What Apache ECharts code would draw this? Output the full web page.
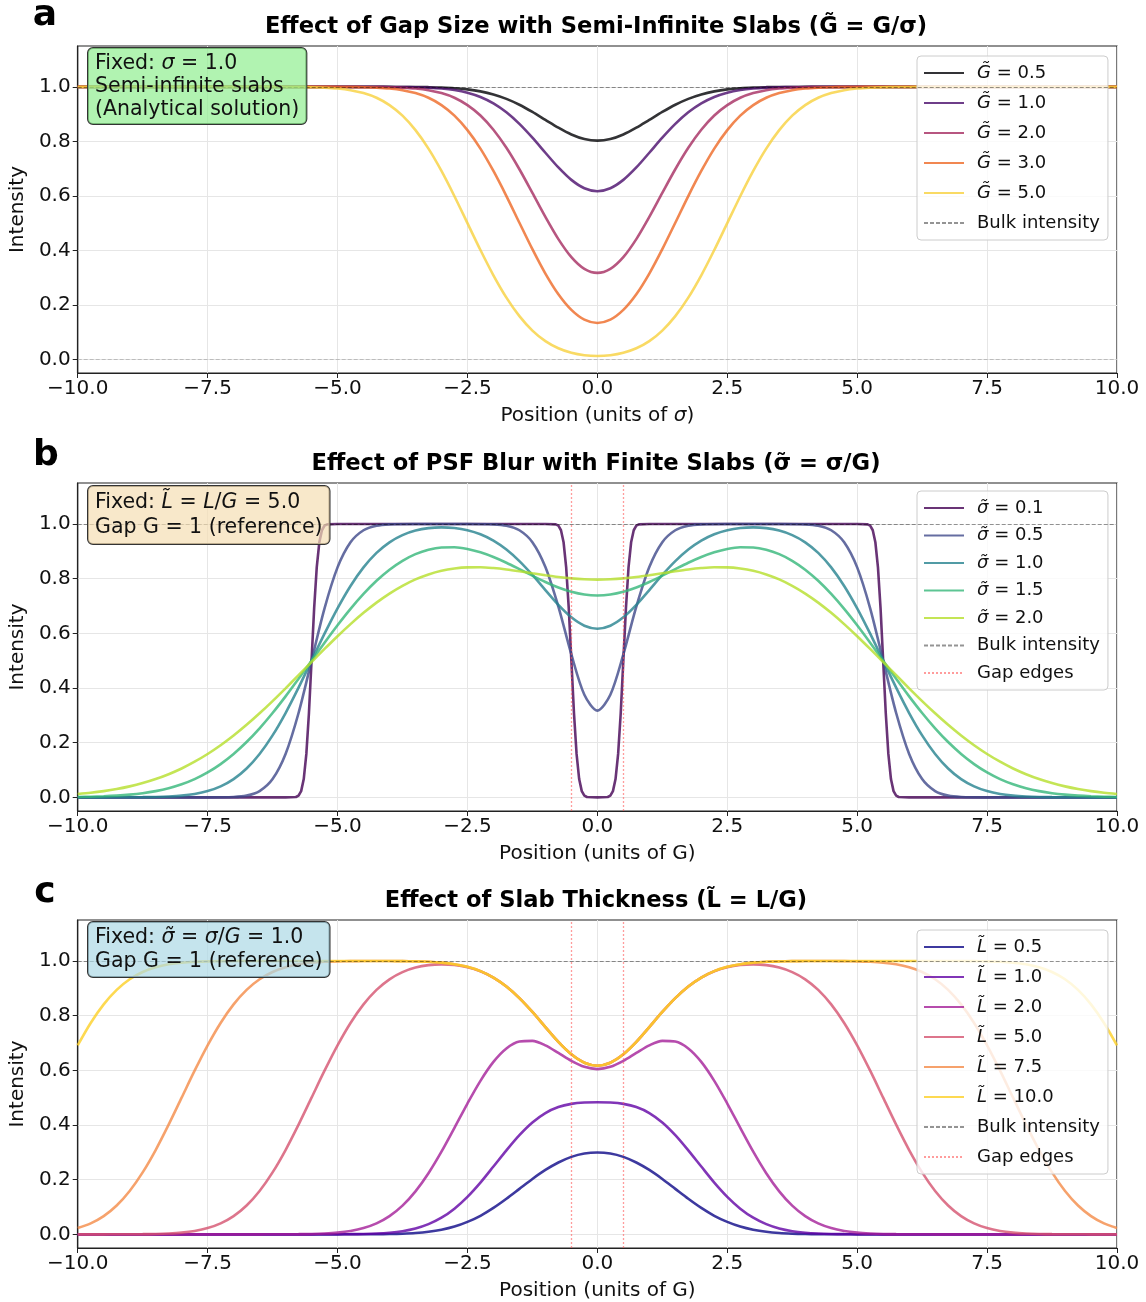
<!DOCTYPE html>
<html>
<head>
<meta charset="utf-8">
<title>Slab intensity profiles</title>
<script src="https://cdn.jsdelivr.net/npm/echarts@6.0.0/dist/echarts.min.js"></script>
<style>
  html, body { margin: 0; padding: 0; background: #fff; }
  #chart { width: 1146px; height: 1302px; }
</style>
</head>
<body>
<div id="chart"></div>
<script>
// shared position grid (units of sigma / G), 0.25 steps
var xQ = [-10,-9.75,-9.5,-9.25,-9,-8.75,-8.5,-8.25,-8,-7.75,-7.5,-7.25,-7,-6.75,-6.5,-6.25,-6,-5.75,-5.5,-5.25,-5,-4.75,-4.5,-4.25,-4,-3.75,-3.5,-3.25,-3,-2.75,-2.5,-2.25,-2,-1.75,-1.5,-1.25,-1,-0.75,-0.5,-0.25,0,0.25,0.5,0.75,1,1.25,1.5,1.75,2,2.25,2.5,2.75,3,3.25,3.5,3.75,4,4.25,4.5,4.75,5,5.25,5.5,5.75,6,6.25,6.5,6.75,7,7.25,7.5,7.75,8,8.25,8.5,8.75,9,9.25,9.5,9.75,10];

// ---------- panel a: gap size, semi-infinite slabs ----------
var gapNames = ['G\u0303 = 0.5', 'G\u0303 = 1.0', 'G\u0303 = 2.0', 'G\u0303 = 3.0', 'G\u0303 = 5.0'];
var gapG05 = [1,1,1,1,1,1,1,1,1,1,1,1,1,1,1,1,1,1,1,1,1,1,1,1,0.9999,0.9997,0.9995,0.9989,0.9976,0.9952,0.9908,0.9834,0.9721,0.956,0.9345,0.9081,0.879,0.8502,0.8253,0.8085,0.8026,0.8085,0.8253,0.8502,0.879,0.9081,0.9345,0.956,0.9721,0.9834,0.9908,0.9952,0.9976,0.9989,0.9995,0.9997,0.9999,1,1,1,1,1,1,1,1,1,1,1,1,1,1,1,1,1,1,1,1,1,1,1,1];
var gapG1 = [1,1,1,1,1,1,1,1,1,1,1,1,1,1,1,1,1,1,1,1,1,1,1,0.9999,0.9998,0.9994,0.9986,0.9971,0.994,0.9884,0.9786,0.9629,0.9394,0.9066,0.8641,0.8135,0.7583,0.7043,0.6587,0.6279,0.617,0.6279,0.6587,0.7043,0.7583,0.8135,0.8641,0.9066,0.9394,0.9629,0.9786,0.9884,0.994,0.9971,0.9986,0.9994,0.9998,0.9999,1,1,1,1,1,1,1,1,1,1,1,1,1,1,1,1,1,1,1,1,1,1,1];
var gapG2 = [1,1,1,1,1,1,1,1,1,1,1,1,1,1,1,1,1,1,1,1,1,0.9999,0.9998,0.9994,0.9987,0.997,0.9938,0.9878,0.9772,0.96,0.933,0.895,0.8427,0.7764,0.6977,0.6109,0.5228,0.4414,0.3753,0.3322,0.3174,0.3322,0.3753,0.4414,0.5228,0.6109,0.6977,0.7764,0.8427,0.895,0.933,0.96,0.9772,0.9878,0.9938,0.997,0.9987,0.9994,0.9998,0.9999,1,1,1,1,1,1,1,1,1,1,1,1,1,1,1,1,1,1,1,1,1];
var gapG3 = [1,1,1,1,1,1,1,1,1,1,1,1,1,1,1,1,1,1,1,0.9999,0.9998,0.9994,0.9987,0.997,0.9938,0.9878,0.9772,0.9599,0.9332,0.8944,0.8413,0.7735,0.6913,0.5993,0.5013,0.4043,0.3147,0.2388,0.1815,0.1457,0.1336,0.1457,0.1815,0.2388,0.3147,0.4043,0.5013,0.5993,0.6913,0.7735,0.8413,0.8944,0.9332,0.9599,0.9772,0.9878,0.9938,0.997,0.9987,0.9994,0.9998,0.9999,1,1,1,1,1,1,1,1,1,1,1,1,1,1,1,1,1,1,1];
var gapG5 = [1,1,1,1,1,1,1,1,1,1,1,1,1,1,1,0.9999,0.9998,0.9994,0.9987,0.997,0.9938,0.9878,0.9772,0.9599,0.9332,0.8944,0.8413,0.7734,0.6915,0.5987,0.5,0.4013,0.3085,0.2266,0.1587,0.1057,0.067,0.0407,0.0241,0.0152,0.0124,0.0152,0.0241,0.0407,0.067,0.1057,0.1587,0.2266,0.3085,0.4013,0.5,0.5987,0.6915,0.7734,0.8413,0.8944,0.9332,0.9599,0.9772,0.9878,0.9938,0.997,0.9987,0.9994,0.9998,0.9999,1,1,1,1,1,1,1,1,1,1,1,1,1,1,1];

// ---------- panel b: PSF blur, finite slabs (L/G = 5) ----------
var blurNames = ['\u03c3\u0303 = 0.1', '\u03c3\u0303 = 0.5', '\u03c3\u0303 = 1.0', '\u03c3\u0303 = 1.5', '\u03c3\u0303 = 2.0'];
var xB01 = [-10,-6,-5.8,-5.75,-5.7,-5.65,-5.6,-5.55,-5.5,-5.45,-5.4,-5.35,-5.3,-5.25,-5.2,-5,-1,-0.8,-0.75,-0.7,-0.65,-0.6,-0.55,-0.5,-0.45,-0.4,-0.35,-0.3,-0.25,-0.2,0,0.2,0.25,0.3,0.35,0.4,0.45,0.5,0.55,0.6,0.65,0.7,0.75,0.8,1,5,5.2,5.25,5.3,5.35,5.4,5.45,5.5,5.55,5.6,5.65,5.7,5.75,5.8,6,10];
var blurS01 = [0,0,0.0013,0.0062,0.0228,0.0668,0.1587,0.3085,0.5,0.6915,0.8413,0.9332,0.9772,0.9938,0.9987,1,1,0.9987,0.9938,0.9772,0.9332,0.8413,0.6915,0.5,0.3085,0.1587,0.0668,0.0228,0.0062,0.0013,0,0.0013,0.0062,0.0228,0.0668,0.1587,0.3085,0.5,0.6915,0.8413,0.9332,0.9772,0.9938,0.9987,1,1,0.9987,0.9938,0.9772,0.9332,0.8413,0.6915,0.5,0.3085,0.1587,0.0668,0.0228,0.0062,0.0013,0,0];
var xB05 = [-10,-8,-7.5,-7,-6.75,-6.5,-6.25,-6,-5.75,-5.5,-5.25,-5,-4.75,-4.5,-4.25,-4,-3.5,-3,-2.5,-2,-1.75,-1.5,-1.25,-1,-0.75,-0.5,-0.25,0,0.25,0.5,0.75,1,1.25,1.5,1.75,2,2.5,3,3.5,4,4.25,4.5,4.75,5,5.25,5.5,5.75,6,6.25,6.5,6.75,7,7.5,8,10];
var blurS05 = [0,0,0,0.0013,0.0062,0.0228,0.0668,0.1587,0.3085,0.5,0.6915,0.8413,0.9332,0.9772,0.9938,0.9987,1,1,1,0.9987,0.9938,0.9772,0.9335,0.8427,0.6977,0.5228,0.3753,0.3173,0.3753,0.5228,0.6977,0.8427,0.9335,0.9772,0.9938,0.9987,1,1,1,0.9987,0.9938,0.9772,0.9332,0.8413,0.6915,0.5,0.3085,0.1587,0.0668,0.0228,0.0062,0.0013,0,0,0];
var blurS10 = [0,0,0,0.0001,0.0002,0.0006,0.0013,0.003,0.0062,0.0122,0.0228,0.0401,0.0668,0.1056,0.1587,0.2266,0.3085,0.4013,0.5,0.5987,0.6915,0.7734,0.8413,0.8943,0.933,0.9593,0.9758,0.9849,0.9878,0.9854,0.9772,0.9623,0.9392,0.9065,0.8641,0.8135,0.7583,0.7043,0.6587,0.6279,0.617,0.6279,0.6587,0.7043,0.7583,0.8135,0.8641,0.9065,0.9392,0.9623,0.9772,0.9854,0.9878,0.9849,0.9758,0.9593,0.933,0.8943,0.8413,0.7734,0.6915,0.5987,0.5,0.4013,0.3085,0.2266,0.1587,0.1056,0.0668,0.0401,0.0228,0.0122,0.0062,0.003,0.0013,0.0006,0.0002,0.0001,0,0,0];
var blurS15 = [0.0014,0.0023,0.0038,0.0062,0.0098,0.0151,0.0228,0.0334,0.0478,0.0668,0.0912,0.1217,0.1587,0.2023,0.2525,0.3084,0.3693,0.4336,0.4996,0.5655,0.6294,0.6894,0.7441,0.7923,0.8329,0.8655,0.8898,0.906,0.9142,0.9149,0.9088,0.8966,0.8793,0.8583,0.8349,0.8109,0.788,0.7677,0.752,0.742,0.7386,0.742,0.752,0.7677,0.788,0.8109,0.8349,0.8583,0.8793,0.8966,0.9088,0.9149,0.9142,0.906,0.8898,0.8655,0.8329,0.7923,0.7441,0.6894,0.6294,0.5655,0.4996,0.4336,0.3693,0.3084,0.2525,0.2023,0.1587,0.1217,0.0912,0.0668,0.0478,0.0334,0.0228,0.0151,0.0098,0.0062,0.0038,0.0023,0.0014];
var blurS20 = [0.0122,0.0168,0.0228,0.0304,0.0401,0.0521,0.0668,0.0846,0.1055,0.1303,0.1585,0.1905,0.2261,0.2652,0.3074,0.3522,0.3989,0.4469,0.4952,0.5429,0.5895,0.6337,0.6749,0.7124,0.7455,0.7739,0.7973,0.8155,0.8289,0.8372,0.8413,0.8417,0.8388,0.8338,0.8272,0.8198,0.8125,0.806,0.801,0.7978,0.7966,0.7978,0.801,0.806,0.8125,0.8198,0.8272,0.8338,0.8388,0.8417,0.8413,0.8372,0.8289,0.8155,0.7973,0.7739,0.7455,0.7124,0.6749,0.6337,0.5895,0.5429,0.4952,0.4469,0.3989,0.3522,0.3074,0.2652,0.2261,0.1905,0.1585,0.1303,0.1055,0.0846,0.0668,0.0521,0.0401,0.0304,0.0228,0.0168,0.0122];

// ---------- panel c: slab thickness (sigma/G = 1) ----------
var thickNames = ['L\u0303 = 0.5', 'L\u0303 = 1.0', 'L\u0303 = 2.0', 'L\u0303 = 5.0', 'L\u0303 = 7.5', 'L\u0303 = 10.0'];
var thickL05 = [0,0,0,0,0,0,0,0,0,0,0,0,0,0,0,0,0,0,0,0,0,0.0001,0.0002,0.0005,0.0011,0.0024,0.0048,0.0093,0.0168,0.0284,0.0456,0.0679,0.0967,0.1302,0.1664,0.2026,0.2355,0.2629,0.2834,0.2957,0.2996,0.2957,0.2834,0.2629,0.2355,0.2026,0.1664,0.1302,0.0967,0.0679,0.0456,0.0284,0.0168,0.0093,0.0048,0.0024,0.0011,0.0005,0.0002,0.0001,0,0,0,0,0,0,0,0,0,0,0,0,0,0,0,0,0,0,0,0,0];
var thickL1 = [0,0,0,0,0,0,0,0,0,0,0,0,0,0,0,0,0,0,0,0.0001,0.0002,0.0006,0.0013,0.0029,0.006,0.0116,0.0214,0.0372,0.0608,0.094,0.1373,0.1894,0.2481,0.3073,0.3628,0.4092,0.4436,0.4655,0.4772,0.4822,0.4834,0.4822,0.4772,0.4655,0.4436,0.4092,0.3628,0.3073,0.2481,0.1894,0.1373,0.094,0.0608,0.0372,0.0214,0.0116,0.006,0.0029,0.0013,0.0006,0.0002,0.0001,0,0,0,0,0,0,0,0,0,0,0,0,0,0,0,0,0,0,0];
var thickL2 = [0,0,0,0,0,0,0,0,0,0,0,0,0,0,0,0.0001,0.0002,0.0006,0.0013,0.003,0.0062,0.0122,0.0228,0.04,0.0666,0.105,0.1573,0.2237,0.3025,0.3897,0.4786,0.5616,0.6309,0.68,0.7054,0.7078,0.6913,0.6636,0.6346,0.6127,0.6046,0.6127,0.6346,0.6636,0.6913,0.7078,0.7054,0.68,0.6309,0.5616,0.4786,0.3897,0.3025,0.2237,0.1573,0.105,0.0666,0.04,0.0228,0.0122,0.0062,0.003,0.0013,0.0006,0.0002,0.0001,0,0,0,0,0,0,0,0,0,0,0,0,0,0,0];
var thickL5 = [0,0,0,0.0001,0.0002,0.0006,0.0013,0.003,0.0062,0.0122,0.0228,0.0401,0.0668,0.1056,0.1587,0.2266,0.3085,0.4013,0.5,0.5987,0.6915,0.7734,0.8413,0.8943,0.933,0.9593,0.9758,0.9849,0.9878,0.9854,0.9772,0.9623,0.9392,0.9065,0.8641,0.8135,0.7583,0.7043,0.6587,0.6279,0.617,0.6279,0.6587,0.7043,0.7583,0.8135,0.8641,0.9065,0.9392,0.9623,0.9772,0.9854,0.9878,0.9849,0.9758,0.9593,0.933,0.8943,0.8413,0.7734,0.6915,0.5987,0.5,0.4013,0.3085,0.2266,0.1587,0.1056,0.0668,0.0401,0.0228,0.0122,0.0062,0.003,0.0013,0.0006,0.0002,0.0001,0,0,0];
var thickL75 = [0.0228,0.0401,0.0668,0.1056,0.1587,0.2266,0.3085,0.4013,0.5,0.5987,0.6915,0.7734,0.8413,0.8944,0.9332,0.9599,0.9772,0.9878,0.9938,0.997,0.9987,0.9994,0.9998,0.9998,0.9998,0.9994,0.9986,0.9971,0.994,0.9884,0.9786,0.9629,0.9394,0.9066,0.8641,0.8135,0.7583,0.7043,0.6587,0.6279,0.617,0.6279,0.6587,0.7043,0.7583,0.8135,0.8641,0.9066,0.9394,0.9629,0.9786,0.9884,0.994,0.9971,0.9986,0.9994,0.9998,0.9998,0.9998,0.9994,0.9987,0.997,0.9938,0.9878,0.9772,0.9599,0.9332,0.8944,0.8413,0.7734,0.6915,0.5987,0.5,0.4013,0.3085,0.2266,0.1587,0.1056,0.0668,0.0401,0.0228];
var thickL10 = [0.6915,0.7734,0.8413,0.8944,0.9332,0.9599,0.9772,0.9878,0.9938,0.997,0.9987,0.9994,0.9998,0.9999,1,1,1,1,1,1,1,1,1,0.9999,0.9998,0.9994,0.9986,0.9971,0.994,0.9884,0.9786,0.9629,0.9394,0.9066,0.8641,0.8135,0.7583,0.7043,0.6587,0.6279,0.617,0.6279,0.6587,0.7043,0.7583,0.8135,0.8641,0.9066,0.9394,0.9629,0.9786,0.9884,0.994,0.9971,0.9986,0.9994,0.9998,0.9999,1,1,1,1,1,1,1,1,1,0.9999,0.9998,0.9994,0.9987,0.997,0.9938,0.9878,0.9772,0.9599,0.9332,0.8944,0.8413,0.7734,0.6915];

// reference levels
var bulkLevel = 1.0;
var zeroLevel = 0.0;
var gapEdges = [-0.5, 0.5];
var yTicks = [0, 0.2, 0.4, 0.6, 0.8, 1.0];

var FF = 'DejaVu Sans';
var infernoCols = ['rgba(0,0,4,0.8)', 'rgba(74,12,107,0.8)', 'rgba(165,44,96,0.8)', 'rgba(237,105,37,0.8)', 'rgba(247,209,61,0.8)'];
var viridisCols = ['rgba(68,1,84,0.8)', 'rgba(62,73,137,0.8)', 'rgba(38,130,142,0.8)', 'rgba(53,183,121,0.8)', 'rgba(181,222,43,0.8)'];
var plasmaCols = ['rgba(13,8,135,0.8)', 'rgba(98,2,165,0.8)', 'rgba(164,31,152,0.8)', 'rgba(212,83,111,0.8)', 'rgba(244,139,71,0.8)', 'rgba(252,207,37,0.8)'];
var bulkStyle = { color: 'rgba(0,0,0,0.42)', width: 1, type: [4, 2] };
var edgeStyle = { color: 'rgba(255,90,90,0.6)', width: 1.3, type: [2, 2] };

function pairs(xs, ys) {
    return xs.map(function (x, i) { return [x, ys[i]]; });
}

function curve(name, xs, ys, color, p, smooth) {
    return {
        name: name, type: 'line', xAxisIndex: p, yAxisIndex: p,
        data: pairs(xs, ys), symbol: 'none', smooth: smooth,
        lineStyle: { color: color, width: 2.6 }, itemStyle: { color: color },
        emphasis: { disabled: true }
    };
}

function bulk(p, withZero) {
    var lines = [{ yAxis: bulkLevel }];
    if (withZero) lines.push({ yAxis: zeroLevel, lineStyle: { color: 'rgba(0,0,0,0.18)', width: 1, type: [4, 2] } });
    return {
        name: 'Bulk intensity', type: 'line', xAxisIndex: p, yAxisIndex: p, data: [],
        symbol: 'none', lineStyle: bulkStyle, itemStyle: { color: bulkStyle.color },
        markLine: { symbol: 'none', silent: true, animation: false, label: { show: false }, lineStyle: bulkStyle, data: lines }
    };
}

function edges(p) {
    return {
        name: 'Gap edges', type: 'line', xAxisIndex: p, yAxisIndex: p, data: [],
        symbol: 'none', lineStyle: edgeStyle, itemStyle: { color: edgeStyle.color },
        markLine: { symbol: 'none', silent: true, animation: false, label: { show: false }, lineStyle: edgeStyle,
            data: gapEdges.map(function (v) { return { xAxis: v }; }) }
    };
}

function fmtNum(v) {
    return (v < 0 ? '\u2212' : '') + Math.abs(v).toFixed(1);
}

function legendFmt(name) {
    var m = name.match(/^(.\u0303)(.*)$/);
    return m ? '{i|' + m[1] + '}{n|' + m[2] + '}' : '{n|' + name + '}';
}

function legend(names, top, gap) {
    return {
        orient: 'vertical', left: 917, top: top, data: names,
        itemWidth: 40, itemHeight: 14, itemGap: gap, padding: [8, 8, 8, 6],
        backgroundColor: 'rgba(255,255,255,0.8)', borderColor: '#cccccc', borderWidth: 1, borderRadius: 4,
        selectedMode: false, formatter: legendFmt,
        itemStyle: { opacity: 0 },
        textStyle: {
            fontFamily: FF, fontSize: 18, color: '#111', padding: [0, 0, 0, 8],
            rich: { i: { fontFamily: FF, fontSize: 18, fontStyle: 'italic', color: '#111' },
                    n: { fontFamily: FF, fontSize: 18, color: '#111' } }
        }
    };
}

function xAxis(p, name) {
    return {
        type: 'value', gridIndex: p, min: -10, max: 10, interval: 2.5,
        name: name, nameLocation: 'middle', nameGap: 33,
        nameTextStyle: { fontFamily: FF, fontSize: 20, color: '#111', rich: { i: { fontFamily: FF, fontSize: 20, fontStyle: 'italic' } } },
        axisLine: { show: true, onZero: false, lineStyle: { color: '#222', width: 1.2 } },
        axisTick: { show: true, length: 5, lineStyle: { color: '#222' } },
        axisLabel: { fontFamily: FF, fontSize: 20, color: '#111', margin: 6, formatter: fmtNum },
        splitLine: { show: true, lineStyle: { color: '#e6e6e6', width: 1 } }
    };
}

function yAxis(p) {
    return {
        type: 'value', gridIndex: p, min: -0.05, max: 1.15,
        name: 'Intensity', nameLocation: 'middle', nameGap: 46, nameRotate: 90,
        nameTextStyle: { fontFamily: FF, fontSize: 20, color: '#111' },
        axisLine: { show: true, onZero: false, lineStyle: { color: '#222', width: 1.2 } },
        axisTick: { show: true, length: 5, lineStyle: { color: '#222' }, customValues: yTicks },
        axisLabel: { fontFamily: FF, fontSize: 20, color: '#111', margin: 7, customValues: yTicks,
            formatter: function (v) { return v.toFixed(1); } },
        splitLine: { show: true, lineStyle: { color: '#e6e6e6', width: 1 } }
    };
}

function label(text, x, y, size, weight) {
    return { type: 'text', x: x, y: y, z: 100,
        style: { text: text, fontFamily: FF, fontSize: size, fontWeight: weight, fill: '#000', align: 'center', verticalAlign: 'middle' } };
}

function box(text, x, y, bg, lh, pad) {
    return { type: 'text', x: x, y: y, z: 100,
        style: { text: text, fontFamily: FF, fontSize: 20.5, fill: '#111', lineHeight: lh,
            align: 'left', verticalAlign: 'top', backgroundColor: bg, borderColor: '#333', borderWidth: 1,
            borderRadius: 5, padding: pad,
            rich: { i: { fontFamily: FF, fontSize: 20.5, fontStyle: 'italic', lineHeight: lh, fill: '#111' } } } };
}

var series = [
    curve(gapNames[0], xQ, gapG05, infernoCols[0], 0, 0.3),
    curve(gapNames[1], xQ, gapG1, infernoCols[1], 0, 0.3),
    curve(gapNames[2], xQ, gapG2, infernoCols[2], 0, 0.3),
    curve(gapNames[3], xQ, gapG3, infernoCols[3], 0, 0.3),
    curve(gapNames[4], xQ, gapG5, infernoCols[4], 0, 0.3),
    bulk(0, true),
    curve(blurNames[0], xB01, blurS01, viridisCols[0], 1, false),
    curve(blurNames[1], xB05, blurS05, viridisCols[1], 1, 0.3),
    curve(blurNames[2], xQ, blurS10, viridisCols[2], 1, 0.3),
    curve(blurNames[3], xQ, blurS15, viridisCols[3], 1, 0.3),
    curve(blurNames[4], xQ, blurS20, viridisCols[4], 1, 0.3),
    bulk(1, false),
    edges(1),
    curve(thickNames[0], xQ, thickL05, plasmaCols[0], 2, 0.3),
    curve(thickNames[1], xQ, thickL1, plasmaCols[1], 2, 0.3),
    curve(thickNames[2], xQ, thickL2, plasmaCols[2], 2, 0.3),
    curve(thickNames[3], xQ, thickL5, plasmaCols[3], 2, 0.3),
    curve(thickNames[4], xQ, thickL75, plasmaCols[4], 2, 0.3),
    curve(thickNames[5], xQ, thickL10, plasmaCols[5], 2, 0.3),
    bulk(2, false),
    edges(2)
];

var chart = echarts.init(document.getElementById('chart'));
chart.setOption({
    animation: false,
    backgroundColor: '#ffffff',
    grid: [
        { left: 73, right: 29, top: 46, height: 327, show: true, borderColor: '#222', borderWidth: 1.2, backgroundColor: 'transparent' },
        { left: 73, right: 29, top: 483, height: 328, show: true, borderColor: '#222', borderWidth: 1.2, backgroundColor: 'transparent' },
        { left: 73, right: 29, top: 920, height: 328, show: true, borderColor: '#222', borderWidth: 1.2, backgroundColor: 'transparent' }
    ],
    xAxis: [xAxis(0, 'Position (units of {i|\u03c3})'), xAxis(1, 'Position (units of G)'), xAxis(2, 'Position (units of G)')],
    yAxis: [yAxis(0), yAxis(1), yAxis(2)],
    legend: [
        legend(gapNames.concat(['Bulk intensity']), 56, 12),
        legend(blurNames.concat(['Bulk intensity', 'Gap edges']), 491, 9.5),
        legend(thickNames.concat(['Bulk intensity', 'Gap edges']), 930, 12)
    ],
    graphic: [
        label('a', 45, 15.5, 36, 'bold'),
        label('b', 46, 455.5, 36, 'bold'),
        label('c', 45, 892.5, 36, 'bold'),
        label('Effect of Gap Size with Semi-Infinite Slabs (G\u0303 = G/\u03c3)', 596, 27, 22.6, 'bold'),
        label('Effect of PSF Blur with Finite Slabs (\u03c3\u0303 = \u03c3/G)', 596, 464, 22.6, 'bold'),
        label('Effect of Slab Thickness (L\u0303 = L/G)', 596, 901, 22.6, 'bold'),
        box('Fixed: {i|\u03c3} = 1.0\nSemi-infinite slabs\n(Analytical solution)', 88, 48, 'rgba(144,238,144,0.7)', 23, [4, 7, 3, 7]),
        box('Fixed: {i|L\u0303} = {i|L}/{i|G} = 5.0\nGap G = 1 (reference)', 88, 486, 'rgba(245,222,179,0.7)', 25, [4, 7, 4, 7]),
        box('Fixed: {i|\u03c3\u0303} = {i|\u03c3}/{i|G} = 1.0\nGap G = 1 (reference)', 88, 922, 'rgba(173,216,230,0.7)', 24, [4, 7, 3, 7])
    ],
    series: series
});
</script>
</body>
</html>
